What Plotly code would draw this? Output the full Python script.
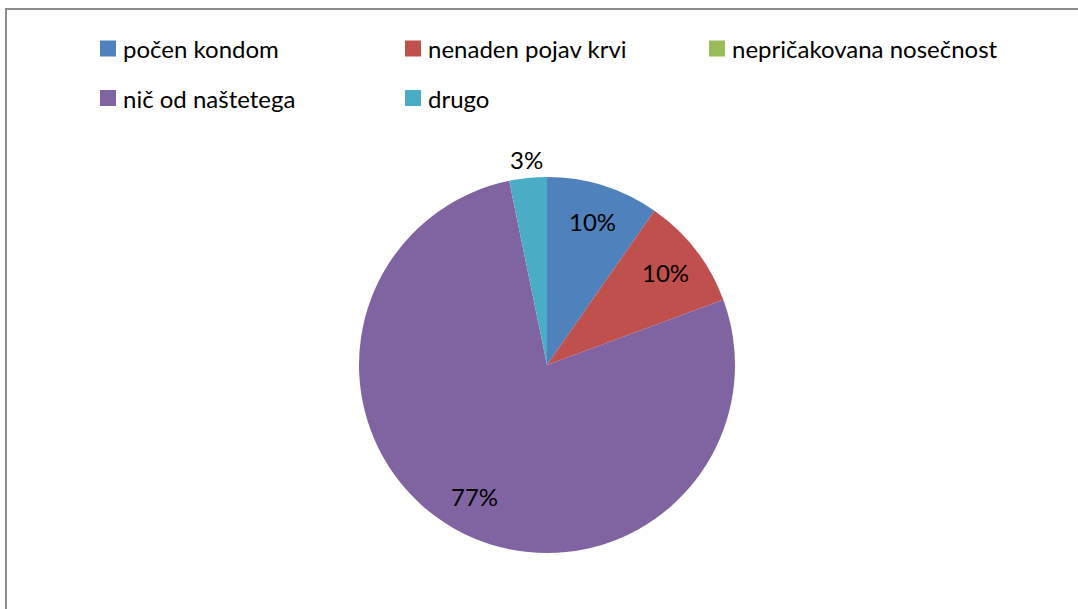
import math
import plotly.graph_objects as go

categories = ["počen kondom", "nenaden pojav krvi", "nepričakovana nosečnost", "nič od naštetega", "drugo"]
counts = [3, 3, 0, 24, 1]
colors = ["#4F81BD", "#C0504D", "#9BBB59", "#8064A2", "#4BACC6"]

W, H = 1078, 609
FONT = "Lato"
FS = 24

def px(x):
    return x / W

def py(y):
    return 1 - y / H

# pie geometry (pixels)
CX, CY, R = 547, 365, 188

fig = go.Figure(go.Pie(
    labels=categories,
    values=counts,
    sort=False,
    direction="clockwise",
    rotation=0,
    marker=dict(colors=colors, line=dict(width=0)),
    textinfo="none",
    domain=dict(x=[px(CX - R), px(CX + R)], y=[py(CY + R), py(CY - R)]),
    showlegend=False,
    hoverinfo="label+percent",
))

shapes = [dict(type="rect", xref="paper", yref="paper",
               x0=px(6), x1=px(W + 10), y0=py(H + 10), y1=py(9),
               line=dict(color="#8C8C8C", width=2), fillcolor="rgba(0,0,0,0)")]
annotations = []

# data labels, placed at each slice's mid-angle (derived from the counts)
total = sum(counts)
cum = 0
for c in counts:
    start = cum
    cum += c
    if c == 0:
        continue
    frac = c / total
    mid = 2 * math.pi * (start + c / 2) / total
    r = 0.80 * R if frac >= 0.05 else 1.10 * R
    lx = CX + r * math.sin(mid)
    ly = CY - r * math.cos(mid)
    annotations.append(dict(xref="paper", yref="paper", x=px(lx), y=py(ly),
                            xanchor="center", yanchor="middle",
                            text=f"{round(frac * 100):.0f}%", showarrow=False,
                            font=dict(family=FONT, size=FS, color="#000000")))

# legend
col_x = [100, 405, 709]
row_y = [48.5, 98]
for i, (cat, col) in enumerate(zip(categories, colors)):
    cx = col_x[i % 3]
    cy = row_y[i // 3]
    shapes.append(dict(type="rect", xref="paper", yref="paper",
                       x0=px(cx), x1=px(cx + 16), y0=py(cy + 8), y1=py(cy - 8),
                       line=dict(width=0), fillcolor=col))
    annotations.append(dict(xref="paper", yref="paper", x=px(cx + 21), y=py(cy),
                            xanchor="left", yanchor="middle", text=cat, showarrow=False,
                            font=dict(family=FONT, size=FS, color="#000000")))

fig.update_layout(
    width=W, height=H,
    margin=dict(l=0, r=0, t=0, b=0),
    paper_bgcolor="#FFFFFF",
    plot_bgcolor="#FFFFFF",
    shapes=shapes,
    annotations=annotations,
)

fig.write_html("out.html", config={"displayModeBar": False},
               post_script="document.body.style.margin='0';")
